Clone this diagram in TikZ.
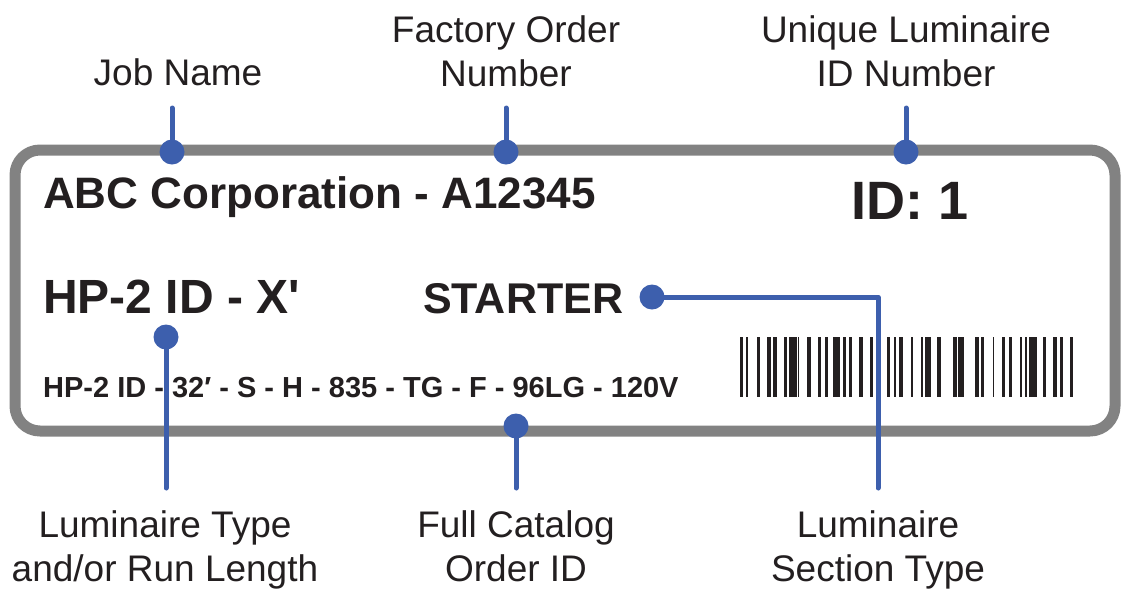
\documentclass[tikz,border=0pt]{standalone}
\usepackage{fontspec}
\setmainfont{Liberation Sans}[Ligatures=TeXOff]
\definecolor{leadblue}{HTML}{3D5FAD}
\definecolor{framegray}{HTML}{828282}
\definecolor{inkblack}{HTML}{231F20}
\tikzset{
  lead/.style={draw=leadblue, line width=5pt},
  pin/.style={circle, fill=leadblue, minimum size=25pt, inner sep=0pt},
  caption/.style={anchor=base, align=center, inner sep=0pt, text=inkblack,
    font=\fontsize{37}{44}\selectfont},
  tagtext/.style={anchor=base west, inner sep=0pt, text=inkblack},
}
\begin{document}
\begin{tikzpicture}[x=1pt, y=-1pt, line cap=round, line join=round]
  \useasboundingbox (0,0) rectangle (1121,590);

  % Etichetta (cornice grigia)
  \node[draw=framegray, line width=11pt, rounded corners=25pt,
    minimum width=1100pt, minimum height=281pt, inner sep=0pt] (tag) at (565,290.5) {};

  % Testi dentro l'etichetta
  \node[tagtext, font=\bfseries\fontsize{44}{44}\selectfont] (jobname) at (43,208) {ABC Corporation - A12345};
  \node[tagtext, font=\bfseries\fontsize{54}{54}\selectfont] (idno) at (851,219) {ID: 1};
  \node[tagtext, font=\bfseries\fontsize{48}{48}\selectfont] (typecode) at (43,313) {HP-2 ID - X'};
  \node[tagtext, font=\bfseries\fontsize{43}{43}\selectfont] (section) at (423,313) {STARTER};
  \node[tagtext, font=\bfseries\fontsize{29}{29}\selectfont] (catalog) at (43,397) {HP-2 ID - 32′ - S - H - 835 - TG - F - 96LG - 120V};

  % Codice a barre
  \foreach \bx/\bw in {740/3.3, 746/2.3, 756.7/3.3, 767.3/3.3, 773.3/3.3, 784/3.3,
      789.3/7.3, 798/1.3, 807.3/3.3, 818/3.3, 824.7/3.3, 833.3/6.7, 842.7/3.3,
      848.7/3.3, 859.3/3.3, 870/3.3, 886.7/3.3, 894/2, 899.3/3.3, 911.3/1.3,
      920.7/2.7, 924.7/6.7, 937.3/3.3, 953.3/3.3, 958/6, 975.3/3.3, 980.7/3.3,
      992.7/1.3, 1002/3.3, 1008.7/3.3, 1020/2, 1025.3/2, 1029.3/7.3, 1042.7/3.3,
      1053.3/3.3, 1060/3.3, 1070/3.3}
    \fill[inkblack] (\bx,337) rectangle ++(\bw,60);

  % Didascalie in alto (base = ultima riga)
  \node[caption] (joblbl) at (178,85) {Job Name};
  \node[caption] (factlbl) at (506,86) {Factory Order\\Number};
  \node[caption] (uniqlbl) at (906,86) {Unique Luminaire\\ID Number};

  % Didascalie in basso
  \node[caption] (typelbl) at (165,581) {Luminaire Type\\and/or Run Length};
  \node[caption] (catlbl) at (516,581) {Full Catalog\\Order ID};
  \node[caption] (seclbl) at (878,581) {Luminaire\\Section Type};

  % Estremi liberi dei collegamenti
  \coordinate (jobtop) at (172,108);
  \coordinate (facttop) at (506,108);
  \coordinate (uniqtop) at (906,108);
  \coordinate (typebot) at (166,488);
  \coordinate (catbot) at (516,488);
  \coordinate (secbot) at (878,488);

  % Punti blu
  \node[pin] (jobdot) at (172,152) {};
  \node[pin] (factdot) at (506,152) {};
  \node[pin] (uniqdot) at (906,152) {};
  \node[pin] (secdot) at (652,297) {};
  \node[pin] (typedot) at (166,337) {};
  \node[pin] (catdot) at (516,426) {};

  % Collegamenti
  \draw[lead] (jobtop) -- (jobdot.center);
  \draw[lead] (facttop) -- (factdot.center);
  \draw[lead] (uniqtop) -- (uniqdot.center);
  \draw[lead] (typedot.center) -- (typebot);
  \draw[lead] (catdot.center) -- (catbot);
  \draw[lead] (secdot.center) -| (secbot);
\end{tikzpicture}
\end{document}
